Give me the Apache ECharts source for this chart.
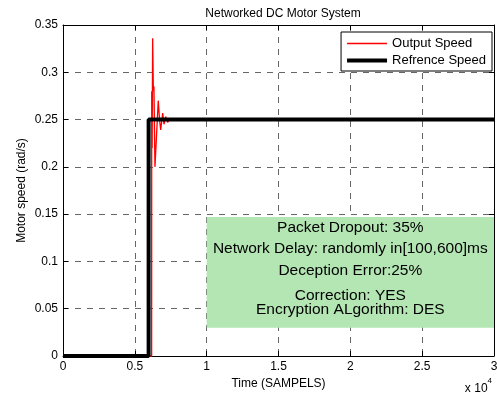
<!DOCTYPE html>
<html>
<head>
<meta charset="utf-8">
<script src="https://cdn.jsdelivr.net/npm/echarts@6/dist/echarts.min.js"></script>
<style>html,body{margin:0;padding:0;background:#fff}#c{width:497px;height:397px}</style>
</head>
<body>
<div id="c"></div>
<script>
var titleText = 'Networked DC Motor System';
var xName = 'Time (SAMPELS)';
var yName = 'Motor speed (rad/s)';
var seriesNames = ['Output Speed', 'Refrence Speed'];
var xTickLabels = ['0', '0.5', '1', '1.5', '2', '2.5', '3'];
var yTickLabels = ['0', '0.05', '0.1', '0.15', '0.2', '0.25', '0.3', '0.35'];
var outputTime  = [0, 6170, 6175, 6205, 6240, 6290, 6330, 6400, 6500, 6630, 6720, 6800, 6940, 7030, 7150, 7280, 7400, 30000];
var outputSpeed = [0, 0,    0.28, 0.22, 0.336, 0.28, 0.285, 0.2, 0.23, 0.27, 0.25, 0.239, 0.257, 0.245, 0.253, 0.247, 0.25, 0.25];
var refTime  = [0, 5960, 5960, 30000];
var refSpeed = [0, 0, 0.25, 0.25];
var annotationLines = ['Packet Dropout: 35%', 'Network Delay: randomly in[100,600]ms', 'Deception Error:25%', 'Correction: YES', 'Encryption ALgorithm: DES'];
var annotationBox = {x0: 10000, x1: 30000, y0: 0.03, y1: 0.147};

var FONT = '"Liberation Sans", Arial, Helvetica, sans-serif';
function zip(a, b) { return a.map(function (v, i) { return [v, b[i]]; }); }

var chart = echarts.init(document.getElementById('c'));
var gridLine = {show: true, lineStyle: {color: '#666', type: [6, 6], width: 1}};
var axisLineStyle = {show: true, onZero: false, lineStyle: {color: '#000', width: 1}};
var option = {
  animation: false,
  backgroundColor: '#fff',
  textStyle: {fontFamily: FONT},
  title: {
    text: titleText, left: 278, top: 3, textAlign: 'center',
    textStyle: {fontFamily: FONT, fontSize: 12, fontWeight: 'normal', color: '#000'}
  },
  grid: {left: 63, right: 3, top: 25, bottom: 41, containLabel: false, outerBoundsMode: 'none'},
  legend: {
    data: [
      {name: seriesNames[0], icon: 'path://M0,0M0,5.3H40V6.7H0ZM40,12'},
      {name: seriesNames[1], icon: 'path://M0,0M0,4H40V8H0ZM40,12'}
    ],
    orient: 'vertical', right: 5, top: 32,
    backgroundColor: '#fff', borderColor: '#000', borderWidth: 1, borderRadius: 0,
    padding: [5, 6, 4, 6], itemWidth: 40, itemHeight: 12, itemGap: 4,
    textStyle: {fontFamily: FONT, fontSize: 13, color: '#000'}
  },
  xAxis: [{
    type: 'value', min: 0, max: 30000, interval: 5000,
    name: xName, nameLocation: 'middle', nameGap: 22, nameMoveOverlap: false,
    nameTextStyle: {fontFamily: FONT, fontSize: 12, color: '#000'},
    axisLine: axisLineStyle,
    axisTick: {show: true, inside: true, length: 5, lineStyle: {color: '#000'}},
    axisLabel: {fontFamily: FONT, fontSize: 12, color: '#000', margin: 5,
      formatter: function (v) { return xTickLabels[Math.round(v / 5000)]; }},
    splitLine: gridLine
  }, {
    type: 'value', position: 'top', min: 0, max: 30000, interval: 5000,
    axisLine: axisLineStyle,
    axisTick: {show: true, inside: true, length: 5, lineStyle: {color: '#000'}},
    axisLabel: {show: false}, splitLine: {show: false}
  }],
  yAxis: [{
    type: 'value', min: 0, max: 0.35, interval: 0.05,
    name: yName, nameLocation: 'middle', nameGap: 35, nameMoveOverlap: false,
    nameTextStyle: {fontFamily: FONT, fontSize: 12, color: '#000'},
    axisLine: axisLineStyle,
    axisTick: {show: true, inside: true, length: 5, lineStyle: {color: '#000'}},
    axisLabel: {fontFamily: FONT, fontSize: 12, color: '#000', margin: 5,
      formatter: function (v) { return yTickLabels[Math.round(v / 0.05)]; }},
    splitLine: gridLine
  }, {
    type: 'value', position: 'right', min: 0, max: 0.35, interval: 0.05,
    axisLine: axisLineStyle,
    axisTick: {show: true, inside: true, length: 5, lineStyle: {color: '#000'}},
    axisLabel: {show: false}, splitLine: {show: false}
  }],
  series: [{
    name: seriesNames[0], type: 'line', data: zip(outputTime, outputSpeed),
    showSymbol: false, symbol: 'none', clip: false, z: 3,
    lineStyle: {color: '#ff0000', width: 1.3}, itemStyle: {color: '#ff0000'}
  }, {
    name: seriesNames[1], type: 'line', data: zip(refTime, refSpeed),
    showSymbol: false, symbol: 'none', clip: false, z: 4,
    lineStyle: {color: '#000', width: 4}, itemStyle: {color: '#000'}
  }]
};
chart.setOption(option);

var p0 = chart.convertToPixel({gridIndex: 0}, [annotationBox.x0, annotationBox.y1]);
var p1 = chart.convertToPixel({gridIndex: 0}, [annotationBox.x1, annotationBox.y0]);
var cx = (p0[0] + p1[0]) / 2;
var offs = [11, 32, 54, 79, 93];
var els = [{
  type: 'rect', z: 2, silent: true,
  shape: {x: p0[0], y: p0[1], width: p1[0] - p0[0], height: p1[1] - p0[1]},
  style: {fill: '#b3e6b3'}
}];
annotationLines.forEach(function (t, i) {
  els.push({
    type: 'text', z: 5, silent: true, x: cx, y: p0[1] + offs[i],
    style: {text: t, fill: '#000', font: '15.5px ' + FONT, textAlign: 'center', textVerticalAlign: 'middle'}
  });
});
els.push({
  type: 'text', z: 5, silent: true, right: 5, top: 377,
  style: {
    text: '{a|x 10}{b|4}', fill: '#000',
    rich: {a: {fontFamily: FONT, fontSize: 12, padding: [6, 0, 0, 0]}, b: {fontFamily: FONT, fontSize: 8, verticalAlign: 'top'}}
  }
});
chart.setOption({graphic: els});
</script>
</body>
</html>
